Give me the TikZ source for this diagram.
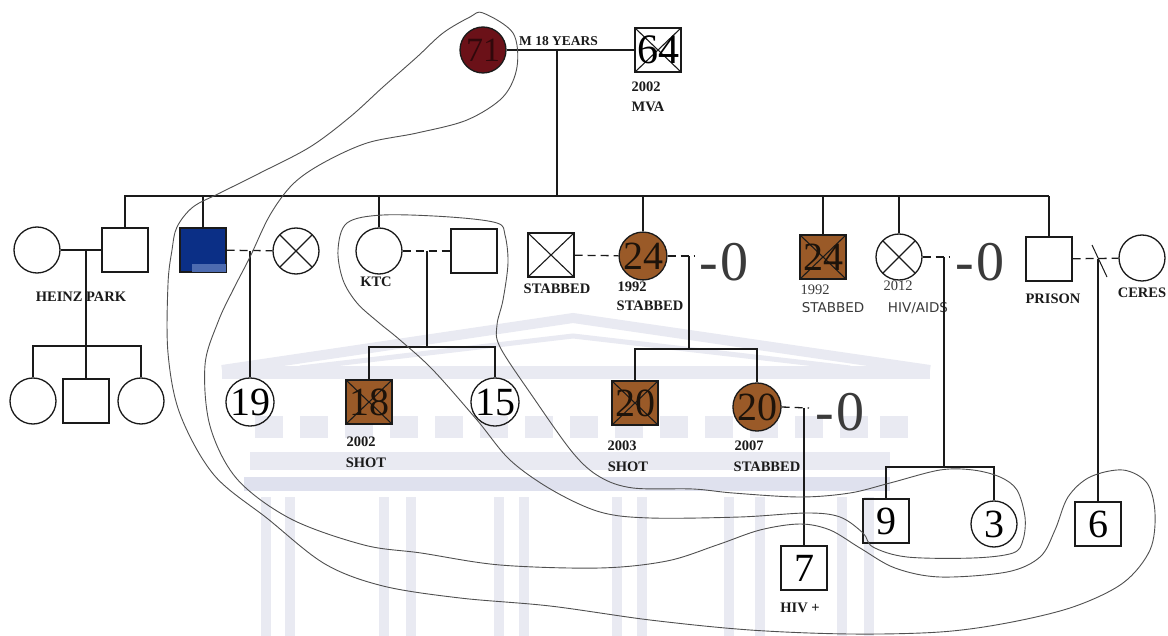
\documentclass[tikz,border=0pt]{standalone}
\usepackage{fontspec}
\setmainfont{Liberation Serif}
\newfontfamily\sansf{DejaVu Sans}
\usetikzlibrary{calc}
\definecolor{dred}{HTML}{6B1118}
\definecolor{brn}{HTML}{9A5A28}
\definecolor{blu}{HTML}{0B2F86}
\definecolor{blul}{HTML}{4D6BB0}
\definecolor{wm}{HTML}{E9EAF2}
\definecolor{wmd}{HTML}{DFE1EE}
\definecolor{ink}{HTML}{1A1A1A}
\definecolor{loopc}{HTML}{505050}
\definecolor{bigc}{HTML}{3A3A3A}
\begin{document}
\begin{tikzpicture}[x=1pt,y=-1pt,
  sq/.style={draw=ink, line width=1.3pt, minimum width=46pt, minimum height=44pt, inner sep=0pt, font=\fontsize{40}{40}\selectfont},
  ci/.style={draw=ink, circle, line width=1.3pt, minimum size=46pt, inner sep=0pt, font=\fontsize{40}{40}\selectfont},
  xx/.style={path picture={\draw[ink, line width=1.1pt] (path picture bounding box.south west) -- (path picture bounding box.north east) (path picture bounding box.north west) -- (path picture bounding box.south east);}},
  brown/.style={fill=brn, text=black!85!brown},
  ln/.style={draw=ink, line width=1.3pt},
  dl/.style={ln, dash pattern=on 8pt off 5pt},
  lab/.style={font=\fontsize{14.5}{14.5}\selectfont\bfseries, text=ink, inner sep=0pt},
  ylab/.style={font=\fontsize{14.5}{14.5}\selectfont, text=bigc, inner sep=0pt},
  slab/.style={font=\sansf\fontsize{13.5}{13.5}\selectfont, text=bigc, inner sep=0pt},
  big/.style={font=\fontsize{56}{56}\selectfont, text=bigc, inner sep=0pt, anchor=west},
  hand/.style={draw=loopc, line width=0.9pt}
]
\useasboundingbox (0,0) rectangle (1168,636);
\fill[white] (0,0) rectangle (1168,636);

% faint watermark
\begin{scope}
 \draw[wm, line width=10pt, line join=miter] (222,370) -- (573,318) -- (930,370);
 \draw[wm, line width=5pt] (300,368) -- (573,336) -- (850,368);
 \fill[wm] (222,366) rectangle (930,379);
 \foreach \x in {255,300,345,390,435,480,525,570,615,660,705,750,795,840,880}
   \fill[wm] (\x,416) rectangle (\x+28,438);
 \fill[wm] (250,452) rectangle (890,470);
 \fill[wmd] (244,477) rectangle (890,491);
 \foreach \x in {266,290,384,411,499,524,617,642,729,760,842,869}
   \fill[wm] (\x-5,497) rectangle (\x+5,636);
\end{scope}

% generation I
\node[ci, fill=dred, text=black!55!dred, font=\fontsize{34}{34}\selectfont] (g71) at (483,50) {71};
\node[sq, xx, font=\fontsize{42}{42}\selectfont] (g64) at (658,50) {64};
\node[lab, anchor=base west, font=\fontsize{13.5}{13.5}\selectfont\bfseries] (my) at (519,46) {M 18 YEARS};
\node[lab] (l64a) at (646,87) {2002};
\node[lab] (l64b) at (648,107) {MVA};

% generation II
\node[ci] (hw) at (37,250) {};
\node[sq] (hp) at (125,250) {};
\node[sq, fill=blu] (bl) at (203,250) {};
\fill[blul] (192,264) rectangle (226,272);
\node[ci, xx] (xc) at (296,251) {};
\node[ci] (ktc) at (379,251) {};
\node[sq] (kh) at (474,251) {};
\node[sq, xx] (st) at (551,255) {};
\node[ci, brown] (c24) at (643,256) {24};
\node[sq, xx, brown] (s24) at (823,257) {24};
\node[ci, xx] (hv) at (899,257) {};
\node[sq] (pr) at (1049,259) {};
\node[ci] (ce) at (1142,258) {};

\node[lab] (lhp) at (81,297) {HEINZ PARK};
\node[lab] (lktc) at (376,282) {KTC};
\node[lab] (lst) at (557,289) {STABBED};
\node[lab] (lc24a) at (632,287) {1992};
\node[lab] (lc24b) at (650,306) {STABBED};
\node[ylab] (ls24a) at (815,290) {1992};
\node[slab] (ls24b) at (833,308) {STABBED};
\node[ylab] (lhva) at (898,286) {2012};
\node[slab] (lhvb) at (918,308) {HIV/AIDS};
\node[lab] (lpr) at (1053,299) {PRISON};
\node[lab] (lce) at (1142,293) {CERES};

% generation III
\node[ci] (k1) at (33,401) {};
\node[sq] (k2) at (86,401) {};
\node[ci] (k3) at (141,401) {};
\node[ci] (n19) at (250,402) {19};
\node[sq, xx, brown] (n18) at (369,402) {18};
\node[ci] (n15) at (495,402) {15};
\node[sq, xx, brown] (n20s) at (635,403) {20};
\node[ci, brown] (n20c) at (757,407) {20};
\node[lab] (l18a) at (361,442) {2002};
\node[lab] (l18b) at (366,463) {SHOT};
\node[lab] (l20a) at (622,446) {2003};
\node[lab] (l20b) at (628,467) {SHOT};
\node[lab] (l20c) at (749,446) {2007};
\node[lab] (l20d) at (767,467) {STABBED};

% generation IV
\node[sq] (n9) at (886,521) {9};
\node[ci] (n3) at (994,524) {3};
\node[sq] (n6) at (1098,524) {6};
\node[sq] (n7) at (804,568) {7};
\node[lab] (l7) at (800,608) {HIV +};

% big -0 marks
\node[big] (z1) at (699,262) {-\kern3pt0};
\node[big] (z2) at (955,262) {-\kern3pt0};
\node[big] (z3) at (815,412) {-\kern3pt0};

% connectors
\coordinate (sibL) at (124,196);
\coordinate (pj) at (557,50);
\draw[ln] (g71) -- (g64);
\draw[ln] (pj) -- (pj |- sibL);
\draw[ln] (sibL) -- (pr.north |- sibL);
\foreach \n in {hp,bl,ktc,c24,s24,hv,pr} \draw[ln] (\n.north) -- (\n.north |- sibL);

\coordinate (hj) at (86,250);
\coordinate (hk) at (86,346);
\draw[ln] (hw) -- (hp);
\draw[ln] (hj) -- (hk);
\draw[ln] (k1.north) |- (hk) -| (k3.north);
\draw[ln] (hk) -- (k2.north);

\draw[dl] (bl) -- (xc);
\coordinate (bj) at (250,251);
\draw[ln] (bj) -- (n19.north);

\draw[dl] (ktc) -- (kh);
\coordinate (kj) at (427,251);
\coordinate (kk) at (427,347);
\draw[ln] (kj) -- (kk);
\draw[ln] (n18.north) |- (kk) -| (n15.north);

\draw[dl] (st) -- (c24);
\coordinate (cj) at (689,256);
\coordinate (cje) at (694,256);
\coordinate (ck) at (689,349);
\draw[dl] (c24.east) -- (cje);
\draw[ln] (cj) -- (ck);
\draw[ln] (n20s.north) |- (ck) -| (n20c.north);

\coordinate (hj2) at (944,257);
\coordinate (hje) at (949,257);
\coordinate (hk2) at (944,467);
\draw[dl] (hv.east) -- (hje);
\draw[ln] (hj2) -- (hk2);
\draw[ln] (n9.north) |- (hk2) -| (n3.north);

\draw[dl] (pr) -- (ce);
\coordinate (sl1) at (1092,245);
\coordinate (sl2) at (1107,277);
\draw[ln, line width=1pt] (sl1) -- (sl2);
\coordinate (pj2) at (1098,259);
\draw[ln] (pj2) -- (n6.north);

\coordinate (nj) at (804,408);
\coordinate (nje) at (809,408);
\draw[dl] (n20c.east) -- (nje);
\draw[ln] (nj) -- (n7.north);

% hand-drawn loops
\draw[hand] plot[smooth cycle, tension=0.55] coordinates {
 (483,13) (513,33) (517,67) (503,97) (467,120) (417,133) (367,143) (323,163) (293,184)
 (270,215) (250,257) (233,290) (218,322) (205,365) (210,426) (237,479) (291,519) (364,545)
 (421,553) (500,565) (600,568) (667,561) (717,545) (760,530) (800,524) (830,530) (860,548)
 (895,568) (940,577) (1007,572) (1040,557) (1055,530) (1068,497) (1090,477) (1123,470)
 (1147,483) (1155,513) (1150,550) (1123,583) (1073,607) (1007,623) (940,632) (850,634)
 (750,630) (650,620) (550,606) (460,598) (383,586) (325,564) (268,519) (214,475) (180,414)
 (168,353) (168,284) (172,250) (177,227) (193,207) (220,193) (260,173) (310,147) (350,117)
 (383,87) (417,57) (443,33) (470,17)};
\draw[hand] plot[smooth cycle, tension=0.55] coordinates {
 (347,223) (383,215) (450,217) (497,223) (505,235) (508,263) (503,300) (497,325) (500,347)
 (533,397) (573,453) (600,477) (633,488) (693,489) (733,493) (800,497) (850,493) (890,483)
 (940,470) (973,470) (1000,477) (1017,490) (1025,517) (1023,540) (1013,553) (973,558)
 (907,557) (873,547) (863,533) (840,517) (807,513) (740,517) (650,518) (600,512) (552,490)
 (510,460) (477,420) (433,370) (400,340) (378,322) (357,303) (343,280) (338,250)};
\end{tikzpicture}
\end{document}
